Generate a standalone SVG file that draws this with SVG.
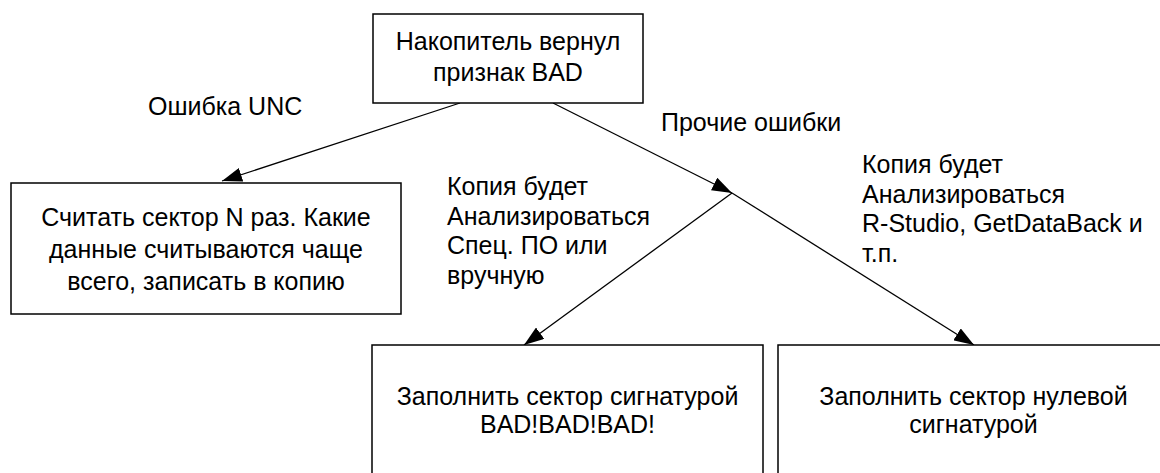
<svg xmlns="http://www.w3.org/2000/svg" width="1160" height="473" viewBox="0 0 1160 473">
<defs>
<style>
.box{fill:#fff;stroke:#000;stroke-width:1.5}
.t{font-family:"Liberation Sans",Arial,sans-serif;font-size:25px;fill:#000}
.c{text-anchor:middle}
.ln{fill:none;stroke:#000;stroke-width:1.3}
</style>
<marker id="ah" markerUnits="userSpaceOnUse" markerWidth="22" markerHeight="14" refX="20" refY="7" orient="auto">
<path d="M0,0 L20,7 L0,14 z" fill="#000"/>
</marker>
</defs>
<rect width="1160" height="473" fill="#fff"/>
<g id="connectors">
<line class="ln" x1="460" y1="103" x2="222" y2="181" marker-end="url(#ah)"/>
<line class="ln" x1="553" y1="103" x2="732" y2="193" marker-end="url(#ah)"/>
<line class="ln" x1="732" y1="193" x2="524" y2="345" marker-end="url(#ah)"/>
<line class="ln" x1="732" y1="193" x2="974" y2="345" marker-end="url(#ah)"/>
</g>
<g id="labels">
<text class="t" x="148" y="115">Ошибка UNC</text>
<text class="t" x="661" y="131">Прочие ошибки</text>
<text class="t" x="447" y="195">Копия будет</text>
<text class="t" x="447" y="225">Анализироваться</text>
<text class="t" x="447" y="254">Спец. ПО или</text>
<text class="t" x="447" y="284">вручную</text>
<text class="t" x="862" y="173">Копия будет</text>
<text class="t" x="862" y="203">Анализироваться</text>
<text class="t" x="862" y="232">R-Studio, GetDataBack и</text>
<text class="t" x="862" y="262">т.п.</text>
</g>
<g id="node-top">
<rect class="box" x="373" y="14" width="270" height="89"/>
<text class="t c" x="508" y="50">Накопитель вернул</text>
<text class="t c" x="508" y="81">признак BAD</text>
</g>
<g id="node-left">
<rect class="box" x="11" y="183" width="390" height="131"/>
<text class="t c" x="206" y="226">Считать сектор N раз. Какие</text>
<text class="t c" x="206" y="258">данные считываются чаще</text>
<text class="t c" x="206" y="290">всего, записать в копию</text>
</g>
<g id="node-bad">
<rect class="box" x="372" y="345" width="391" height="160"/>
<text class="t c" x="567.5" y="405">Заполнить сектор сигнатурой</text>
<text class="t c" x="567.5" y="433">BAD!BAD!BAD!</text>
</g>
<g id="node-zero">
<rect class="box" x="778" y="345" width="391" height="160"/>
<text class="t c" x="973.5" y="405">Заполнить сектор нулевой</text>
<text class="t c" x="973.5" y="433">сигнатурой</text>
</g>
</svg>
